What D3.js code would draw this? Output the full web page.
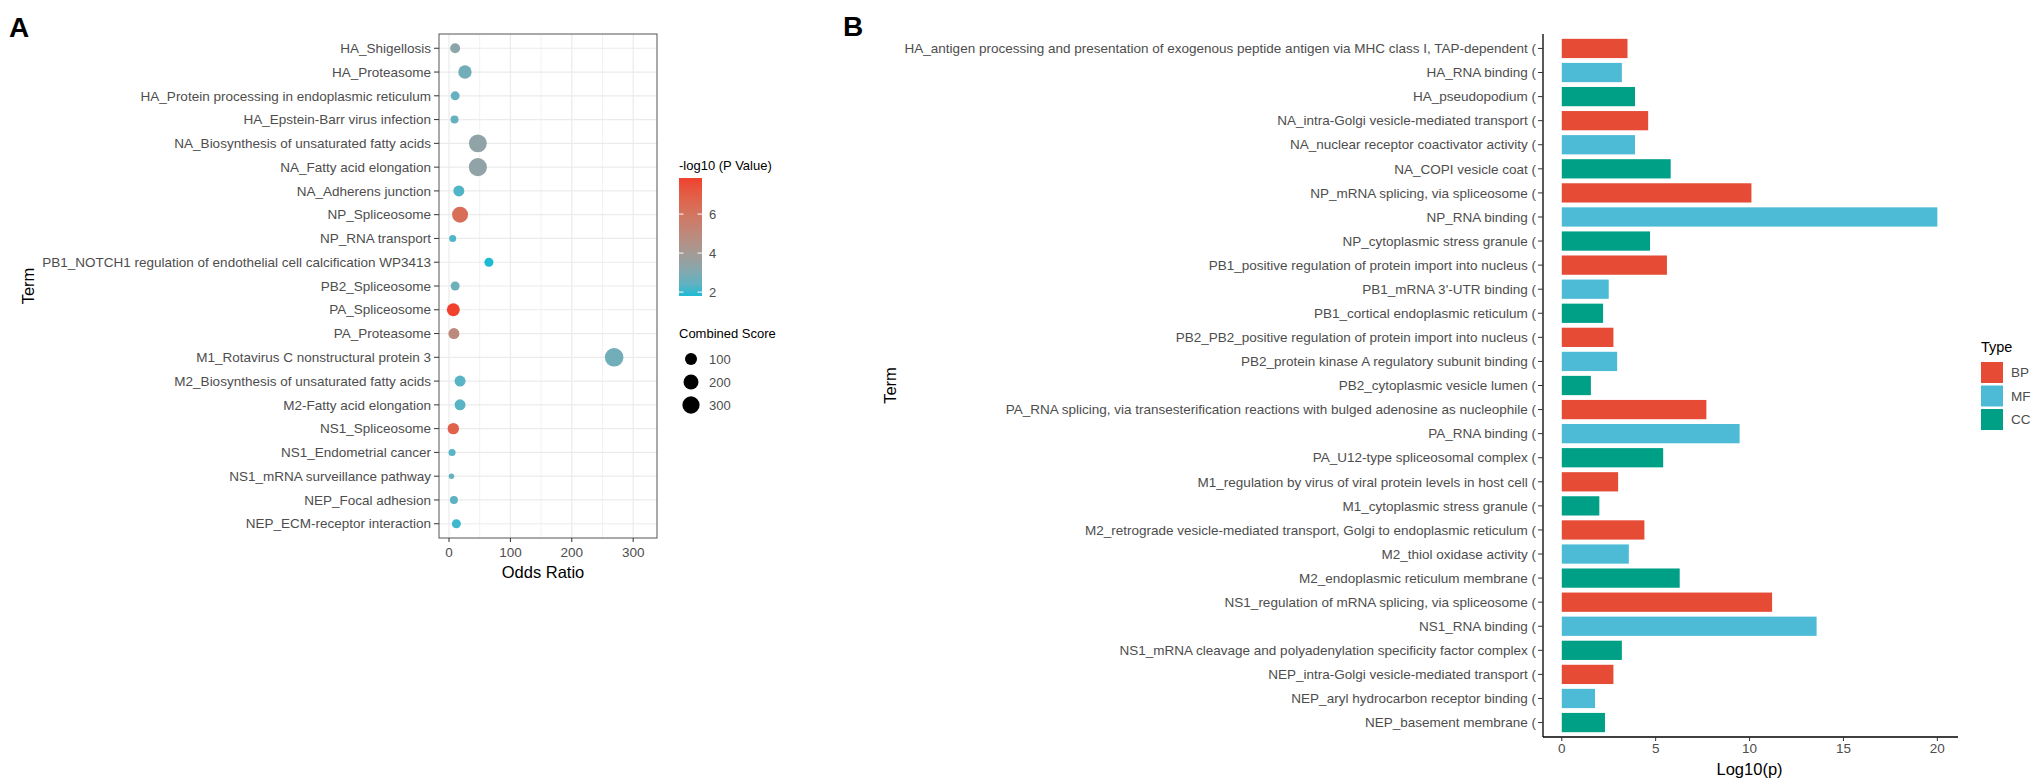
<!DOCTYPE html>
<html>
<head>
<meta charset="utf-8">
<script src="https://cdn.jsdelivr.net/npm/d3@7"></script>
<style>
  body { margin: 0; background: #fff; }
  text { font-family: "Liberation Sans", Arial, sans-serif; }
</style>
</head>
<body>
<script>
// panel A data: KEGG/WikiPathways terms
const termsA = [
  "HA_Shigellosis", "HA_Proteasome", "HA_Protein processing in endoplasmic reticulum",
  "HA_Epstein-Barr virus infection", "NA_Biosynthesis of unsaturated fatty acids",
  "NA_Fatty acid elongation", "NA_Adherens junction", "NP_Spliceosome", "NP_RNA transport",
  "PB1_NOTCH1 regulation of endothelial cell calcification WP3413", "PB2_Spliceosome",
  "PA_Spliceosome", "PA_Proteasome", "M1_Rotavirus C nonstructural protein 3",
  "M2_Biosynthesis of unsaturated fatty acids", "M2-Fatty acid elongation", "NS1_Spliceosome",
  "NS1_Endometrial cancer", "NS1_mRNA surveillance pathway", "NEP_Focal adhesion",
  "NEP_ECM-receptor interaction"
];
const oddsRatio = [10, 26, 10, 9, 47, 47, 16, 18, 6, 65, 10, 7, 8, 269, 18, 18, 7, 5, 4, 8, 12];
const logP = [3.3, 2.7, 2.5, 2.5, 3.4, 3.4, 2.2, 6.3, 2.2, 1.8, 2.6, 7.85, 4.9, 2.7, 2.3, 2.3, 6.8, 2.3, 2.5, 2.4, 2.0];
const combinedScore = [52, 142, 34, 20, 330, 338, 74, 241, 10, 34, 34, 130, 74, 366, 74, 74, 85, 10, 1, 20, 34];

const xTicksA = [0, 100, 200, 300];
const xMinorA = [50, 150, 250];
const colorTicks = [2, 4, 6];
const sizeTicks = [100, 200, 300];

// panel B data: GO terms
const termsB = [
  "HA_antigen processing and presentation of exogenous peptide antigen via MHC class I, TAP-dependent (",
  "HA_RNA binding (", "HA_pseudopodium (", "NA_intra-Golgi vesicle-mediated transport (",
  "NA_nuclear receptor coactivator activity (", "NA_COPI vesicle coat (",
  "NP_mRNA splicing, via spliceosome (", "NP_RNA binding (", "NP_cytoplasmic stress granule (",
  "PB1_positive regulation of protein import into nucleus (", "PB1_mRNA 3'-UTR binding (",
  "PB1_cortical endoplasmic reticulum (", "PB2_PB2_positive regulation of protein import into nucleus (",
  "PB2_protein kinase A regulatory subunit binding (", "PB2_cytoplasmic vesicle lumen (",
  "PA_RNA splicing, via transesterification reactions with bulged adenosine as nucleophile (",
  "PA_RNA binding (", "PA_U12-type spliceosomal complex (",
  "M1_regulation by virus of viral protein levels in host cell (", "M1_cytoplasmic stress granule (",
  "M2_retrograde vesicle-mediated transport, Golgi to endoplasmic reticulum (",
  "M2_thiol oxidase activity (", "M2_endoplasmic reticulum membrane (",
  "NS1_regulation of mRNA splicing, via spliceosome (", "NS1_RNA binding (",
  "NS1_mRNA cleavage and polyadenylation specificity factor complex (",
  "NEP_intra-Golgi vesicle-mediated transport (", "NEP_aryl hydrocarbon receptor binding (",
  "NEP_basement membrane ("
];
const log10p = [3.5, 3.2, 3.9, 4.6, 3.9, 5.8, 10.1, 20.0, 4.7, 5.6, 2.5, 2.2, 2.75, 2.95, 1.55,
  7.7, 9.47, 5.4, 3.0, 2.0, 4.4, 3.57, 6.28, 11.2, 13.57, 3.2, 2.75, 1.77, 2.3];
const typeB = ["BP", "MF", "CC", "BP", "MF", "CC", "BP", "MF", "CC", "BP", "MF", "CC", "BP", "MF", "CC",
  "BP", "MF", "CC", "BP", "CC", "BP", "MF", "CC", "BP", "MF", "CC", "BP", "MF", "CC"];
const types = ["BP", "MF", "CC"];
const typeColors = ["#E64B35", "#4DBBD5", "#00A087"];
const xTicksB = [0, 5, 10, 15, 20];

const labelColor = "#4d4d4d";

const svg = d3.select("body").append("svg")
  .attr("width", 2033)
  .attr("height", 779);

// ---------- panel A ----------
const pA = { left: 439, right: 657, top: 34, bottom: 538 };

const xA = d3.scaleLinear().domain([-16.3, 338.8]).range([pA.left, pA.right]);
const yA = d3.scalePoint().domain(termsA).range([pA.top, pA.bottom]).padding(0.6);
const colorA = d3.scaleLinear().domain(d3.extent(logP))
  .range(["#1DBBD3", "#F0412F"]).interpolate(d3.interpolateLab);
const sizeA = d3.scaleSqrt().domain([0, 400]).range([2.4, 9.6]);

const gA = svg.append("g");

gA.append("rect")
  .attr("x", pA.left).attr("y", pA.top)
  .attr("width", pA.right - pA.left).attr("height", pA.bottom - pA.top)
  .attr("fill", "#fff");

gA.selectAll(".minor").data(xMinorA).enter().append("line")
  .attr("x1", (d) => xA(d)).attr("x2", (d) => xA(d))
  .attr("y1", pA.top).attr("y2", pA.bottom)
  .attr("stroke", "#f2f2f2").attr("stroke-width", 1);

gA.selectAll(".major").data(xTicksA).enter().append("line")
  .attr("x1", (d) => xA(d)).attr("x2", (d) => xA(d))
  .attr("y1", pA.top).attr("y2", pA.bottom)
  .attr("stroke", "#ebebeb").attr("stroke-width", 1.2);

gA.selectAll(".hgrid").data(termsA).enter().append("line")
  .attr("x1", pA.left).attr("x2", pA.right)
  .attr("y1", (d) => yA(d)).attr("y2", (d) => yA(d))
  .attr("stroke", "#ebebeb").attr("stroke-width", 1.2);

gA.selectAll("circle.dot").data(termsA).enter().append("circle")
  .attr("class", "dot")
  .attr("cx", (d, i) => xA(oddsRatio[i]))
  .attr("cy", (d) => yA(d))
  .attr("r", (d, i) => sizeA(combinedScore[i]))
  .attr("fill", (d, i) => colorA(logP[i]));

gA.append("rect")
  .attr("x", pA.left).attr("y", pA.top)
  .attr("width", pA.right - pA.left).attr("height", pA.bottom - pA.top)
  .attr("fill", "none").attr("stroke", "#555").attr("stroke-width", 1);

// y axis of A
const yAxisA = gA.append("g");
yAxisA.selectAll("line").data(termsA).enter().append("line")
  .attr("x1", pA.left - 5).attr("x2", pA.left)
  .attr("y1", (d) => yA(d)).attr("y2", (d) => yA(d))
  .attr("stroke", "#333");
yAxisA.selectAll("text").data(termsA).enter().append("text")
  .attr("x", pA.left - 8).attr("y", (d) => yA(d)).attr("dy", "0.35em")
  .attr("text-anchor", "end").attr("font-size", 13.5).attr("fill", labelColor)
  .text((d) => d);

// x axis of A
const xAxisA = gA.append("g");
xAxisA.selectAll("line").data(xTicksA).enter().append("line")
  .attr("x1", (d) => xA(d)).attr("x2", (d) => xA(d))
  .attr("y1", pA.bottom).attr("y2", pA.bottom + 4)
  .attr("stroke", "#333");
xAxisA.selectAll("text").data(xTicksA).enter().append("text")
  .attr("x", (d) => xA(d)).attr("y", pA.bottom + 19)
  .attr("text-anchor", "middle").attr("font-size", 13.5).attr("fill", labelColor)
  .text((d) => d);

gA.append("text")
  .attr("x", (pA.left + pA.right) / 2 - 5).attr("y", 578)
  .attr("text-anchor", "middle").attr("font-size", 16.5).attr("fill", "#000")
  .text("Odds Ratio");

gA.append("text")
  .attr("transform", `translate(34,${(pA.top + pA.bottom) / 2}) rotate(-90)`)
  .attr("text-anchor", "middle").attr("font-size", 16.5).attr("fill", "#000")
  .text("Term");

// colour legend
const legX = 679;
gA.append("text")
  .attr("x", legX).attr("y", 170)
  .attr("font-size", 13).attr("fill", "#000")
  .text("-log10 (P Value)");

const cbar = d3.scaleLinear().domain(colorA.domain()).range([296, 178]);
const grad = svg.append("defs").append("linearGradient")
  .attr("id", "pgrad").attr("x1", 0).attr("x2", 0).attr("y1", 1).attr("y2", 0);
d3.range(0, 1.0001, 0.1).forEach((t) => {
  const v = colorA.domain()[0] + t * (colorA.domain()[1] - colorA.domain()[0]);
  grad.append("stop").attr("offset", t).attr("stop-color", colorA(v));
});
gA.append("rect")
  .attr("x", legX).attr("y", 178)
  .attr("width", 23).attr("height", 118)
  .attr("fill", "url(#pgrad)");
colorTicks.forEach((v) => {
  [[legX, legX + 4.5], [legX + 18.5, legX + 23]].forEach((xs) => {
    gA.append("line")
      .attr("x1", xs[0]).attr("x2", xs[1])
      .attr("y1", cbar(v)).attr("y2", cbar(v))
      .attr("stroke", "#fff").attr("stroke-width", 1);
  });
  gA.append("text")
    .attr("x", legX + 30).attr("y", cbar(v)).attr("dy", "0.35em")
    .attr("font-size", 13).attr("fill", labelColor)
    .text(v);
});

// size legend
gA.append("text")
  .attr("x", legX).attr("y", 338)
  .attr("font-size", 13).attr("fill", "#000")
  .text("Combined Score");
sizeTicks.forEach((v, i) => {
  const cy = 359 + i * 23;
  gA.append("circle")
    .attr("cx", 691).attr("cy", cy).attr("r", sizeA(v)).attr("fill", "#000");
  gA.append("text")
    .attr("x", 709).attr("y", cy).attr("dy", "0.35em")
    .attr("font-size", 13).attr("fill", labelColor)
    .text(v);
});

gA.append("text")
  .attr("x", 9).attr("y", 37)
  .attr("font-size", 28).attr("font-weight", "bold").attr("fill", "#000")
  .text("A");

// ---------- panel B ----------
const pB = { left: 1543, right: 1958, top: 34, bottom: 737 };

const xB = d3.scaleLinear().domain([-1, 21.1]).range([pB.left, pB.right]);
const yB = d3.scalePoint().domain(termsB).range([pB.top, pB.bottom]).padding(0.6);
const colorB = d3.scaleOrdinal().domain(types).range(typeColors);
const barH = yB.step() * 0.8;

const gB = svg.append("g");

gB.selectAll("rect.bar").data(termsB).enter().append("rect")
  .attr("class", "bar")
  .attr("x", xB(0))
  .attr("y", (d) => yB(d) - barH / 2)
  .attr("width", (d, i) => xB(log10p[i]) - xB(0))
  .attr("height", barH)
  .attr("fill", (d, i) => colorB(typeB[i]));

gB.append("line")
  .attr("x1", pB.left).attr("x2", pB.left)
  .attr("y1", pB.top).attr("y2", pB.bottom)
  .attr("stroke", "#000").attr("stroke-width", 1.3);
gB.append("line")
  .attr("x1", pB.left).attr("x2", pB.right)
  .attr("y1", pB.bottom).attr("y2", pB.bottom)
  .attr("stroke", "#000").attr("stroke-width", 1.3);

const yAxisB = gB.append("g");
yAxisB.selectAll("line").data(termsB).enter().append("line")
  .attr("x1", pB.left - 5).attr("x2", pB.left)
  .attr("y1", (d) => yB(d)).attr("y2", (d) => yB(d))
  .attr("stroke", "#333");
yAxisB.selectAll("text").data(termsB).enter().append("text")
  .attr("x", pB.left - 7).attr("y", (d) => yB(d)).attr("dy", "0.35em")
  .attr("text-anchor", "end").attr("font-size", 13.5).attr("fill", labelColor)
  .text((d) => d);

const xAxisB = gB.append("g");
xAxisB.selectAll("line").data(xTicksB).enter().append("line")
  .attr("x1", (d) => xB(d)).attr("x2", (d) => xB(d))
  .attr("y1", pB.bottom).attr("y2", pB.bottom + 4)
  .attr("stroke", "#333");
xAxisB.selectAll("text").data(xTicksB).enter().append("text")
  .attr("x", (d) => xB(d)).attr("y", pB.bottom + 16)
  .attr("text-anchor", "middle").attr("font-size", 13.5).attr("fill", labelColor)
  .text((d) => d);

gB.append("text")
  .attr("x", xB(10)).attr("y", 775)
  .attr("text-anchor", "middle").attr("font-size", 16.5).attr("fill", "#000")
  .text("Log10(p)");

gB.append("text")
  .attr("transform", `translate(896,${(pB.top + pB.bottom) / 2}) rotate(-90)`)
  .attr("text-anchor", "middle").attr("font-size", 16.5).attr("fill", "#000")
  .text("Term");

// type legend
gB.append("text")
  .attr("x", 1981).attr("y", 352)
  .attr("font-size", 14.5).attr("fill", "#000")
  .text("Type");
types.forEach((t, i) => {
  const y0 = 362 + i * 23.5;
  gB.append("rect")
    .attr("x", 1981).attr("y", y0)
    .attr("width", 22).attr("height", 21)
    .attr("fill", colorB(t));
  gB.append("text")
    .attr("x", 2011).attr("y", y0 + 10.5).attr("dy", "0.35em")
    .attr("font-size", 13.5).attr("fill", labelColor)
    .text(t);
});

gB.append("text")
  .attr("x", 843).attr("y", 36)
  .attr("font-size", 28).attr("font-weight", "bold").attr("fill", "#000")
  .text("B");
</script>
</body>
</html>
